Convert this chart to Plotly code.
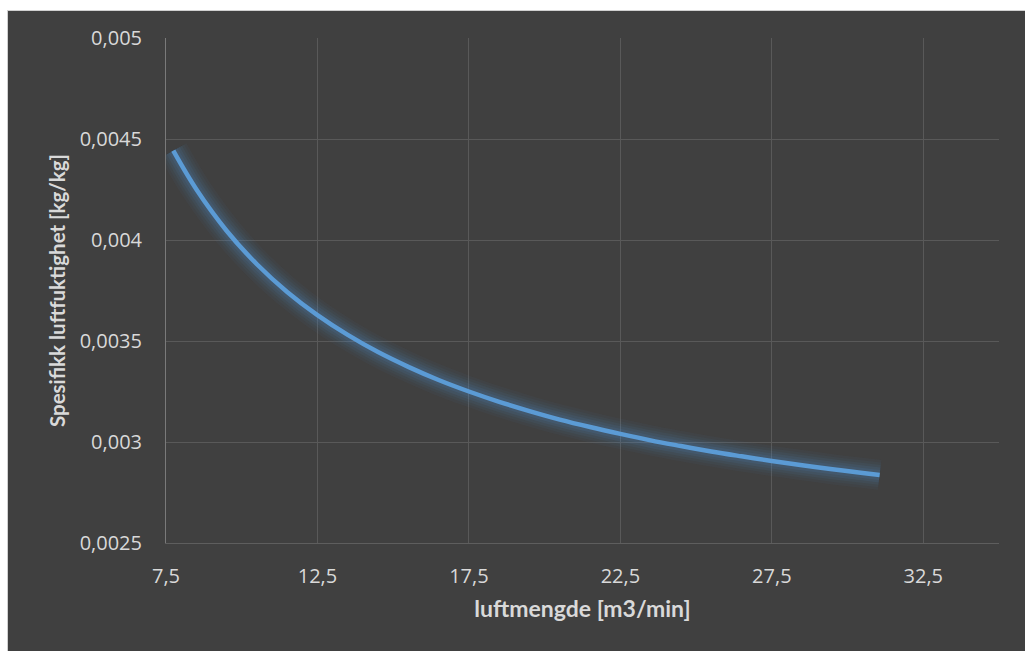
import plotly.graph_objects as go

# Data
luftmengde = [7.74, 8.5, 9.5, 10.5, 11.5, 12.5, 13.5, 14.5, 15.5, 16.5, 17.5, 18.5,
              19.5, 20.5, 21.5, 22.5, 23.5, 24.5, 25.5, 26.5, 27.5, 28.5, 29.5, 30.5, 31.06]
spesifikk_fukt = [0.004442, 0.004251, 0.004046, 0.003880, 0.003743, 0.003628, 0.003530,
                  0.003445, 0.003372, 0.003307, 0.003250, 0.003199, 0.003153, 0.003111,
                  0.003074, 0.003040, 0.003008, 0.002980, 0.002953, 0.002929, 0.002906,
                  0.002885, 0.002865, 0.002847, 0.002837]

x_tickvals = [7.5, 12.5, 17.5, 22.5, 27.5, 32.5]
x_ticktext = ["7,5", "12,5", "17,5", "22,5", "27,5", "32,5"]
y_tickvals = [0.0025, 0.003, 0.0035, 0.004, 0.0045, 0.005]
y_ticktext = ["0,0025", "0,003", "0,0035", "0,004", "0,0045", "0,005"]

BG = "#404040"
GRID = "#595959"
TXT = "#d9d9d9"
LINE = "#5b9bd5"

fig = go.Figure()

# soft glow underneath the main line
for w, a in [(30, 0.05), (25, 0.06), (20, 0.08), (15, 0.10), (10, 0.13)]:
    fig.add_trace(go.Scatter(
        x=luftmengde, y=spesifikk_fukt, mode="lines",
        line=dict(color=f"rgba(75,135,195,{a})", width=w, shape="spline"),
        hoverinfo="skip", showlegend=False))

fig.add_trace(go.Scatter(
    x=luftmengde, y=spesifikk_fukt, mode="lines",
    line=dict(color=LINE, width=4.5, shape="spline"),
    showlegend=False))

W, H = 1025, 651
L, R, T, B = 166, 26, 38, 108
pw, ph = W - L - R, H - T - B

def px_x(p):
    return (p - L) / pw

def px_y(p):
    return 1 + (T - p) / ph

# white strips outside the dark chart area (left and top)
fig.add_shape(type="rect", xref="paper", yref="paper",
              x0=px_x(-5), x1=px_x(7), y0=px_y(-5), y1=px_y(H + 5),
              fillcolor="white", line=dict(width=0), layer="above")
fig.add_shape(type="rect", xref="paper", yref="paper",
              x0=px_x(-5), x1=px_x(W + 5), y0=px_y(10), y1=px_y(-5),
              fillcolor="white", line=dict(width=0), layer="above")
fig.add_shape(type="line", xref="paper", yref="paper",
              x0=px_x(7.5), x1=px_x(7.5), y0=px_y(10), y1=px_y(H + 5),
              line=dict(color="#d0d0d0", width=1), layer="above")
fig.add_shape(type="line", xref="paper", yref="paper",
              x0=px_x(7), x1=px_x(W + 5), y0=px_y(10.5), y1=px_y(10.5),
              line=dict(color="#d0d0d0", width=1), layer="above")

fig.update_layout(
    width=W, height=H,
    margin=dict(l=L, r=R, t=T, b=B),
    paper_bgcolor=BG, plot_bgcolor=BG,
    font=dict(family="Open Sans, sans-serif", size=20, color=TXT),
    xaxis=dict(
        range=[7.5, 35], tickvals=x_tickvals, ticktext=x_ticktext,
        showgrid=True, gridcolor=GRID, gridwidth=1,
        showline=True, linecolor="#5e5e5e", linewidth=1,
        zeroline=False, ticks="outside", ticklen=15, tickcolor=BG,
        tickfont=dict(family="Open Sans, sans-serif", size=20, color=TXT),
        title=dict(text="luftmengde [m3/min]", standoff=12,
                   font=dict(family="Lato, sans-serif", size=23, color=TXT, weight="bold")),
    ),
    yaxis=dict(
        range=[0.0025, 0.005], tickvals=y_tickvals, ticktext=y_ticktext,
        showgrid=True, gridcolor=GRID, gridwidth=1,
        showline=True, linecolor="#7a7a7a", linewidth=1,
        zeroline=False, ticks="outside", ticklen=19, tickcolor=BG,
        tickfont=dict(family="Open Sans, sans-serif", size=20, color=TXT),
        title=dict(text="Spesifikk luftfuktighet [kg/kg]", standoff=8,
                   font=dict(family="Lato, sans-serif", size=20.5, color=TXT, weight="bold")),
    ),
)

fig.write_html("out.html")
